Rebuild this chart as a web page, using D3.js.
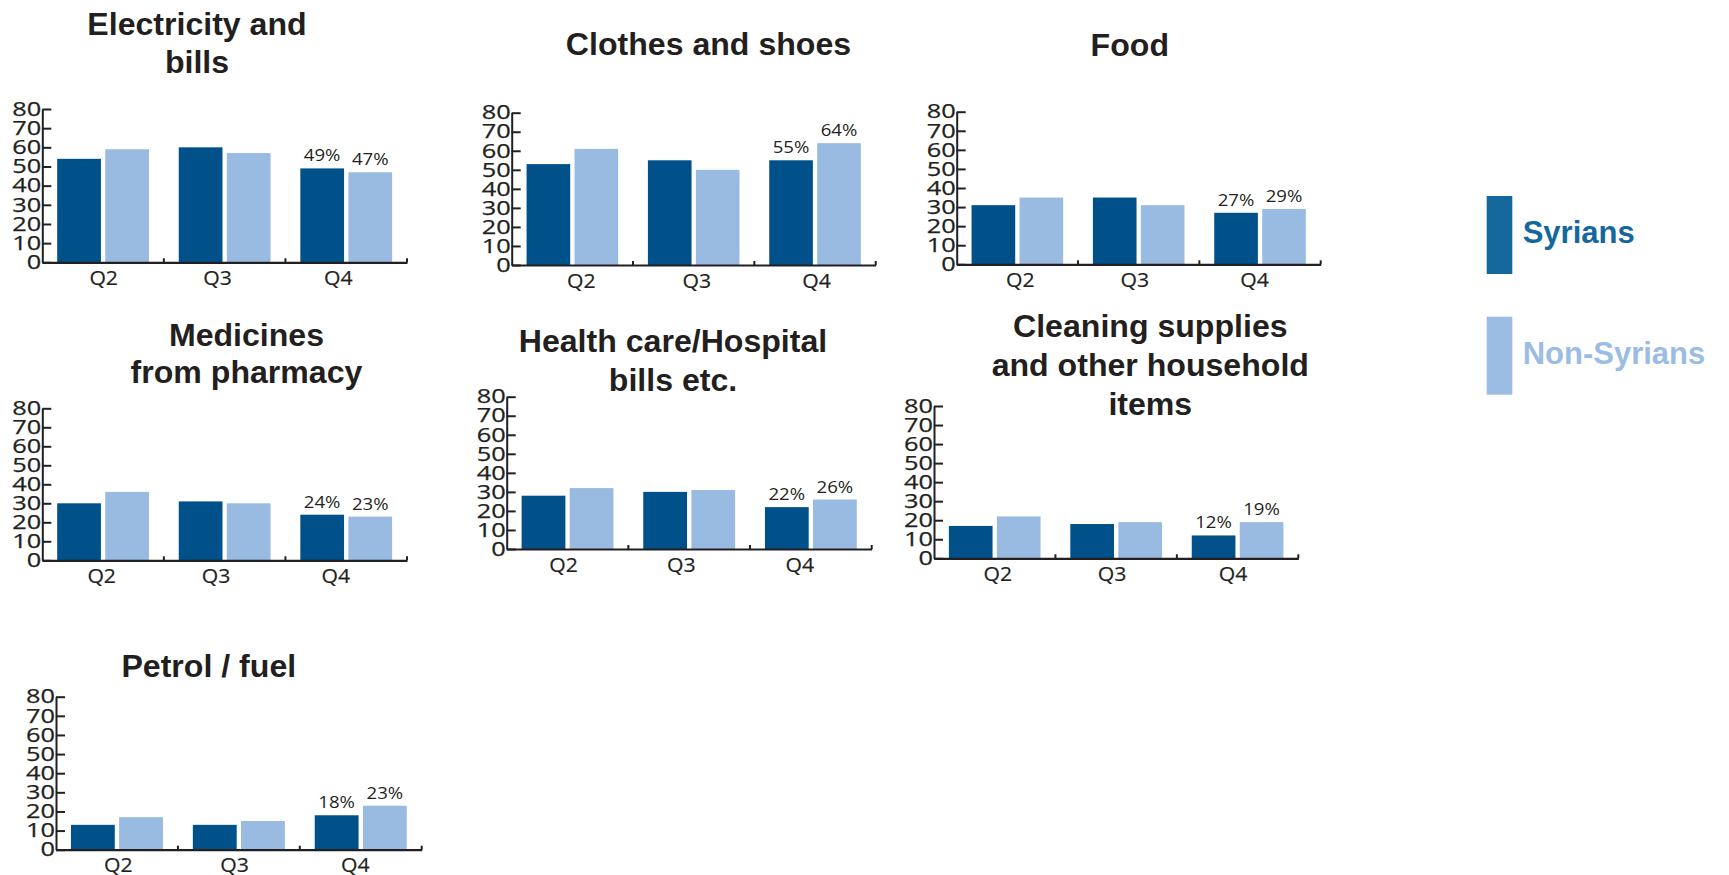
<!DOCTYPE html>
<html>
<head>
<meta charset="utf-8">
<script src="https://cdn.jsdelivr.net/npm/d3@7"></script>
<style>
  html, body { margin: 0; padding: 0; background: #ffffff; }
  svg { display: block; }
</style>
</head>
<body>
<div id="chart"></div>
<script>
// ---------------- DATA ----------------
const categories = [
  "Electricity and bills",
  "Clothes and shoes",
  "Food",
  "Medicines from pharmacy",
  "Health care/Hospital bills etc.",
  "Cleaning supplies and other household items",
  "Petrol / fuel"
];
const titleLines = [
  ["Electricity and", "bills"],
  ["Clothes and shoes"],
  ["Food"],
  ["Medicines", "from pharmacy"],
  ["Health care/Hospital", "bills etc."],
  ["Cleaning supplies", "and other household", "items"],
  ["Petrol / fuel"]
];
const quarters = ["Q2", "Q3", "Q4"];
const series = ["Syrians", "Non-Syrians"];
const syrians = [
  [54, 60, 49],
  [53, 55, 55],
  [31, 35, 27],
  [30, 31, 24],
  [28, 30, 22],
  [17, 18, 12],
  [13, 13, 18]
];
const nonSyrians = [
  [59, 57, 47],
  [61, 50, 64],
  [35, 31, 29],
  [36, 30, 23],
  [32, 31, 26],
  [22, 19, 19],
  [17, 15, 23]
];
const yTicks = [0, 10, 20, 30, 40, 50, 60, 70, 80];
const yMax = 80;

// ---------------- LAYOUT (positions only) ----------------
const layout = [
  { x0: 42.3,  x1: 407,    yTop: 109,   y0: 262.3, tx: 197,    ty: [35, 72.7],          qdx: [0.6, -7, -8] },
  { x0: 511.7, x1: 875.7,  yTop: 112.7, y0: 265,   tx: 708.5,  ty: [55],                qdx: [9, 3, 1.5] },
  { x0: 956.7, x1: 1320.7, yTop: 111.7, y0: 264.3, tx: 1129.8, ty: [55.7],              qdx: [3, -4, -5.5] },
  { x0: 42.3,  x1: 407,    yTop: 408.3, y0: 560.3, tx: 246.5,  ty: [346, 382.7],        qdx: [-1.4, -8.5, -10.5] },
  { x0: 506.7, x1: 871.7,  yTop: 396.7, y0: 549,   tx: 673,    ty: [351.7, 390.7],      qdx: [-4, -8, -11] },
  { x0: 934,   x1: 1298.3, yTop: 406,   y0: 558.3, tx: 1150.3, ty: [337.3, 376, 415],   qdx: [3, -4, -4.6] },
  { x0: 56,    x1: 421.7,  yTop: 696.7, y0: 849.7, tx: 208.8,  ty: [676.7],             qdx: [1.3, -4.3, -5.5] }
];

const colors = { "Syrians": "#00508A", "Non-Syrians": "#99BBE2" };
const legendColors = { "Syrians": "#15689C", "Non-Syrians": "#9BBDE4" };
const ink = "#231F20";
const numFont = "'Open Sans', 'Noto Sans', sans-serif";
const titleFont = "'Liberation Sans', Arial, sans-serif";

const W = 1729, H = 875;
const svg = d3.select("#chart").append("svg")
  .attr("width", W).attr("height", H)
  .attr("viewBox", `0 0 ${W} ${H}`);

function stretch(sel, k) {
  sel.each(function () {
    const len = this.getComputedTextLength();
    d3.select(this).attr("textLength", len * k).attr("lengthAdjust", "spacingAndGlyphs");
  });
}

categories.forEach((cat, i) => {
  const L = layout[i];
  const g = svg.append("g").attr("class", "panel");

  const y = d3.scaleLinear().domain([0, yMax]).range([L.y0, L.yTop]);
  const x0 = d3.scaleBand().domain(quarters).range([L.x0, L.x1]);
  const x1 = d3.scaleBand().domain(series).range([0, x0.bandwidth()])
    .paddingInner(0.09).paddingOuter(0.31);

  const rows = quarters.map((q, j) => ({
    q,
    vals: [
      { s: series[0], v: syrians[i][j] },
      { s: series[1], v: nonSyrians[i][j] }
    ]
  }));

  // bars
  const qg = g.selectAll("g.q").data(rows).join("g")
    .attr("class", "q")
    .attr("transform", d => `translate(${x0(d.q)},0)`);
  qg.selectAll("rect").data(d => d.vals).join("rect")
    .attr("x", d => x1(d.s))
    .attr("width", x1.bandwidth())
    .attr("y", d => y(d.v))
    .attr("height", d => y(0) - y(d.v))
    .attr("fill", d => colors[d.s]);

  // value labels on last quarter
  const last = rows[rows.length - 1];
  const lbl = g.append("g").attr("transform", `translate(${x0(last.q)},0)`)
    .selectAll("text").data(last.vals).join("text")
    .attr("x", d => x1(d.s) + x1.bandwidth() / 2)
    .attr("y", d => y(d.v) - 7)
    .attr("text-anchor", "middle")
    .attr("font-family", numFont)
    .attr("font-size", 15.5)
    .attr("fill", ink)
    .text(d => d.v + "%");
  stretch(lbl, 1.2);

  // y axis
  const ya = g.append("g").attr("transform", `translate(${L.x0},0)`)
    .call(d3.axisLeft(y).tickValues(yTicks).tickSizeInner(-9).tickSizeOuter(0).tickPadding(1));
  ya.selectAll("path, line").attr("stroke", ink).attr("stroke-width", 2);
  ya.selectAll("text")
    .attr("font-family", numFont).attr("font-size", 19.5).attr("fill", ink)
    .attr("stroke", ink).attr("stroke-width", 0.25);
  stretch(ya.selectAll("text"), 1.3);

  // x axis
  const xa = g.append("g").attr("transform", `translate(0,${L.y0})`)
    .call(d3.axisBottom(x0).tickSize(0).tickSizeOuter(0).tickPadding(8.5));
  xa.selectAll("path").attr("stroke", ink).attr("stroke-width", 2.2);
  xa.selectAll("text")
    .attr("font-family", numFont).attr("font-size", 20).attr("fill", ink)
    .attr("stroke", ink).attr("stroke-width", 0.2)
    .attr("dx", (d, k) => L.qdx[k]);
  stretch(xa.selectAll("text"), 1.06);
  // small upward ticks at band boundaries and at the end
  const bounds = quarters.slice(1).map(q => x0(q)).concat([x0.range()[1]]);
  xa.selectAll("line.bnd").data(bounds).join("line")
    .attr("class", "bnd")
    .attr("x1", d => d).attr("x2", d => d)
    .attr("y1", 0).attr("y2", -4)
    .attr("stroke", ink).attr("stroke-width", 2);

  // title
  const tt = g.append("g").selectAll("text").data(titleLines[i]).join("text")
    .attr("x", L.tx)
    .attr("y", (d, k) => L.ty[k])
    .attr("text-anchor", "middle")
    .attr("font-family", titleFont)
    .attr("font-weight", "bold")
    .attr("font-size", 31)
    .attr("fill", ink)
    .text(d => d);
  stretch(tt, 1.035);
});

// legend
const legendPos = [
  { rx: 1486.7, ry: 196,   tx: 1522.7, ty: 243.3 },
  { rx: 1486.7, ry: 316.7, tx: 1522.7, ty: 364.3 }
];
const lg = svg.append("g").attr("class", "legend");
series.forEach((s, k) => {
  const P = legendPos[k];
  lg.append("rect").attr("x", P.rx).attr("y", P.ry).attr("width", 25.6).attr("height", 78)
    .attr("fill", legendColors[s]);
  lg.append("text").attr("x", P.tx).attr("y", P.ty)
    .attr("font-family", titleFont).attr("font-weight", "bold").attr("font-size", 31)
    .attr("fill", legendColors[s]).text(s);
});
</script>
</body>
</html>
